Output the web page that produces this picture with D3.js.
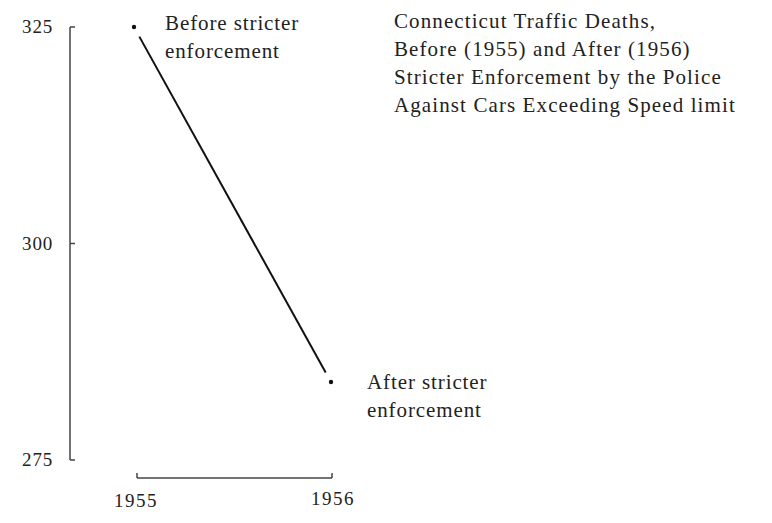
<!DOCTYPE html>
<html>
<head>
<meta charset="utf-8">
<script src="https://cdn.jsdelivr.net/npm/d3@7"></script>
<style>
  body { margin: 0; background: #fff; }
  text { font-family: "Liberation Serif", "DejaVu Serif", serif; fill: #222; }
</style>
</head>
<body>
<div id="chart"></div>
<script>
// Data
const years = [1955, 1956];
const deaths = [325, 284];
const yTicks = [275, 300, 325];
const pointLabels = [["Before stricter", "enforcement"], ["After stricter", "enforcement"]];
const titleLines = [
  "Connecticut Traffic Deaths,",
  "Before (1955) and After (1956)",
  "Stricter Enforcement by the Police",
  "Against Cars Exceeding Speed limit"
];

const svg = d3.select("#chart").append("svg")
  .attr("width", 772)
  .attr("height", 523);

const x = d3.scaleLinear().domain([1955, 1956]).range([134, 331]);
const y = d3.scaleLinear().domain([275, 325]).range([460, 27]);

// y axis: range frame with ticks pointing inward
const yAxisX = 70;
svg.append("line")
  .attr("x1", yAxisX).attr("x2", yAxisX)
  .attr("y1", y(325)).attr("y2", y(275))
  .attr("stroke", "#444").attr("stroke-width", 1.5);
svg.selectAll(".ytick").data(yTicks).enter().append("line")
  .attr("x1", yAxisX).attr("x2", yAxisX + 5)
  .attr("y1", d => y(d)).attr("y2", d => y(d))
  .attr("stroke", "#444").attr("stroke-width", 1.5);
svg.selectAll(".ylab").data(yTicks).enter().append("text")
  .attr("x", 53)
  .attr("y", d => y(d) + 6)
  .attr("text-anchor", "end")
  .attr("font-size", 19)
  .attr("letter-spacing", 0.8)
  .text(d => d);

// x axis bracket
const xAxisY = 478;
svg.append("line")
  .attr("x1", x(1955) + 3).attr("x2", x(1956) + 1)
  .attr("y1", xAxisY).attr("y2", xAxisY)
  .attr("stroke", "#444").attr("stroke-width", 1.5);
svg.selectAll(".xtick").data(years).enter().append("line")
  .attr("x1", (d, i) => i ? x(d) + 1 : x(d) + 3)
  .attr("x2", (d, i) => i ? x(d) + 1 : x(d) + 3)
  .attr("y1", xAxisY).attr("y2", xAxisY - 5)
  .attr("stroke", "#444").attr("stroke-width", 1.5);
svg.selectAll(".xlab").data(years).enter().append("text")
  .attr("x", d => x(d) + 2)
  .attr("y", (d, i) => i ? 505 : 507)
  .attr("text-anchor", "middle")
  .attr("font-size", 19)
  .attr("letter-spacing", 1.5)
  .text(d => d);

// slope line with small gaps at the points
const pts = years.map((yr, i) => [x(yr), y(deaths[i])]);
const dx = pts[1][0] - pts[0][0], dy = pts[1][1] - pts[0][1];
const len = Math.sqrt(dx * dx + dy * dy);
const gap = 11;
svg.append("line")
  .attr("x1", pts[0][0] + dx / len * gap).attr("y1", pts[0][1] + dy / len * gap)
  .attr("x2", pts[1][0] - dx / len * gap).attr("y2", pts[1][1] - dy / len * gap)
  .attr("stroke", "#111").attr("stroke-width", 2);

svg.selectAll(".dot").data(pts).enter().append("circle")
  .attr("cx", d => d[0]).attr("cy", d => d[1])
  .attr("r", 2.2).attr("fill", "#111");

// point labels
pointLabels.forEach((lines, i) => {
  const lx = pts[i][0] + (i ? 36 : 31);
  const t = svg.append("text")
    .attr("x", lx)
    .attr("y", pts[i][1] + (i ? 7 : 3))
    .attr("font-size", 21)
    .attr("letter-spacing", 0.9);
  lines.forEach((s, j) => {
    t.append("tspan").attr("x", lx).attr("dy", j ? 28 : 0).text(s);
  });
});

// title
const title = svg.append("text")
  .attr("x", 394).attr("y", 28)
  .attr("font-size", 21)
  .attr("letter-spacing", 1.1);
titleLines.forEach((s, j) => {
  title.append("tspan").attr("x", 394).attr("dy", j ? 28 : 0).text(s);
});
</script>
</body>
</html>
